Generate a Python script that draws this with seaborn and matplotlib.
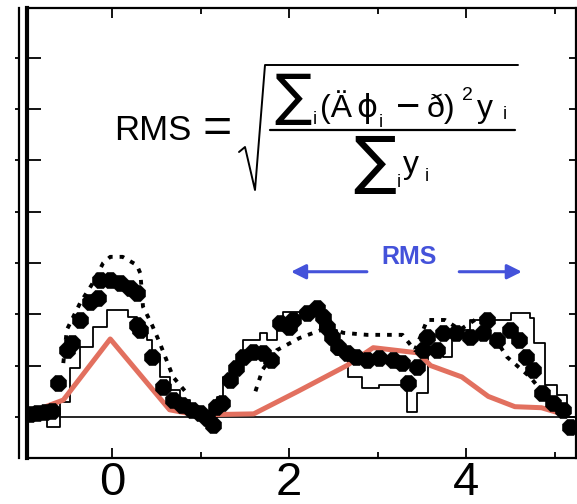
import matplotlib
matplotlib.use("Agg")
import numpy as np
import pandas as pd
import seaborn as sns
import matplotlib.pyplot as plt
from matplotlib.transforms import Affine2D
from matplotlib.ticker import MultipleLocator

sns.set_theme(style="white")
plt.rcParams["font.family"] = ["Liberation Sans", "DejaVu Sans"]
plt.rcParams["text.color"] = "black"
plt.rcParams["xtick.color"] = "black"
plt.rcParams["ytick.color"] = "black"

# ---------------- data ----------------
# model curve (red)
model_x = [-0.75, -0.55, -0.02, 0.65, 0.95, 1.6, 2.1, 2.65, 2.95, 3.45, 3.6, 3.95, 4.25, 4.55, 4.85, 5.1]
model_y = [0.2, 0.33, 1.52, 0.14, 0.04, 0.06, 0.5, 1.0, 1.35, 1.25, 1.0, 0.78, 0.4, 0.2, 0.18, 0.05]

# histogram (black staircase): left bin edges and levels
hist_edges = [-0.96, -0.73, -0.59, -0.47, -0.36, -0.21, -0.06, 0.18, 0.28, 0.40, 0.45,
              0.54, 0.65, 0.77, 0.88, 0.99, 1.19, 1.25, 1.33, 1.48, 1.67, 1.75, 1.86,
              1.93, 2.12, 2.35, 2.54, 2.66, 2.82, 3.02, 3.33, 3.45, 3.57, 3.74, 3.84,
              4.04, 4.51, 4.72, 4.77, 4.89, 5.02, 5.14, 5.24]
hist_levels = [0.14, -0.2, 0.29, 0.95, 1.36, 1.75, 2.09, 1.95, 1.75, 1.5, 1.17,
               0.78, 0.53, 0.33, 0.14, 0.0, 0.39, 0.78, 0.97, 1.5, 1.64, 1.5, 1.7,
               2.05, 2.0, 1.7, 1.21, 0.78, 0.57, 0.62, 0.1, 0.47, 1.35, 1.17, 1.7,
               1.89, 2.03, 1.93, 1.44, 0.62, 0.43, 0.0, 0.0]

# measured points (big black dots)
pts_x = [-0.93, -0.85, -0.76, -0.68, -0.61, -0.51, -0.45, -0.36, -0.25, -0.16, -0.14,
         -0.02, 0.09, 0.2, 0.28, 0.28, 0.32, 0.45, 0.58, 0.69, 0.79, 0.9, 0.99, 1.07,
         1.14, 1.18, 1.24, 1.33, 1.4, 1.48, 1.59, 1.7, 1.8, 1.9, 2.0, 2.04, 2.2, 2.31,
         2.38, 2.43, 2.49, 2.55, 2.65, 2.76, 2.88, 3.02, 3.17, 3.28, 3.34, 3.44, 3.51,
         3.56, 3.67, 3.74, 3.89, 4.04, 4.19, 4.23, 4.35, 4.49, 4.6, 4.68, 4.75, 4.86,
         4.98, 5.09, 5.17]
pts_y = [0.05, 0.08, 0.1, 0.12, 0.66, 1.3, 1.44, 1.89, 2.24, 2.32, 2.67,
         2.67, 2.61, 2.51, 2.42, 1.8, 1.7, 1.17, 0.58, 0.33, 0.23, 0.14, 0.08, -0.02,
         -0.16, 0.2, 0.27, 0.72, 0.95, 1.17, 1.27, 1.25, 1.11, 1.83, 1.75, 1.89, 2.03, 2.12,
         1.95, 1.75, 1.56, 1.36, 1.25, 1.17, 1.11, 1.15, 1.11, 1.05, 0.66, 0.97, 1.3,
         1.56, 1.31, 1.64, 1.64, 1.56, 1.64, 1.89, 1.5, 1.7, 1.5, 1.17, 0.92, 0.47,
         0.27, 0.14, -0.2]

# second measurement (dotted black), two separate stretches
alt_seg = [0] * 14 + [1] * 19
alt_x = [-0.55, -0.51, -0.36, -0.22, -0.1, -0.02, 0.12, 0.28, 0.32, 0.35, 0.45, 0.54, 0.69, 0.85,
         1.62, 1.70, 1.86, 2.12, 2.45, 2.61, 2.88, 3.14, 3.28, 3.42, 3.56, 3.76, 3.93, 4.15,
         4.30, 4.46, 4.72, 4.89, 5.0]
alt_y = [1.05, 1.7, 2.22, 2.6, 3.0, 3.12, 3.12, 2.96, 2.8, 2.15, 1.8, 1.44, 0.78, 0.45,
         0.5, 0.92, 1.3, 1.54, 1.75, 1.64, 1.6, 1.6, 1.6, 1.3, 1.89, 1.89, 1.7, 1.95,
         1.6, 1.17, 0.78, 0.43, 0.3]

x_ticks_major = [0, 2, 4]
x_tick_labels = ["0", "2", "4"]

XLIM = (-0.96, 5.24)
YLIM = (-0.8, 7.96)

# ---------------- figure ----------------
W, H = 577, 504
fig = plt.figure(figsize=(W / 100, H / 100), dpi=100)
ax = fig.add_axes([27 / W, 1 - 458 / H, 549 / W, 449.5 / H])
side = fig.add_axes([0, 1 - 458 / H, 19 / W, 449.5 / H])

red = "#E2705F"
blue = "#4452DA"

hist_df = pd.DataFrame({"x": hist_edges, "y": hist_levels})
sns.lineplot(data=hist_df, x="x", y="y", drawstyle="steps-post", estimator=None,
             sort=False, color="black", lw=1.3, ax=ax, zorder=2)

model_df = pd.DataFrame({"x": model_x, "y": model_y})
sns.lineplot(data=model_df, x="x", y="y", estimator=None, sort=False,
             color=red, lw=3.6, ax=ax, zorder=3)

alt_df = pd.DataFrame({"x": alt_x, "y": alt_y, "seg": alt_seg})
sns.lineplot(data=alt_df, x="x", y="y", units="seg", estimator=None, sort=False,
             color="black", lw=2.8, linestyle=(0, (1.2, 1.8)), ax=ax, zorder=4)

pts_df = pd.DataFrame({"x": pts_x, "y": pts_y})
sns.scatterplot(data=pts_df, x="x", y="y", marker="8", s=150, color="black",
                edgecolor="black", linewidth=0.5, ax=ax, zorder=5)

# zero reference line
ax.axhline(0, xmin=(-0.59 - XLIM[0]) / (XLIM[1] - XLIM[0]), xmax=1,
           color="black", lw=1.2, zorder=1)

ax.set_xlim(*XLIM)
ax.set_ylim(*YLIM)
ax.set_xlabel("")
ax.set_ylabel("")
ax.set_xticks(x_ticks_major)
ax.set_xticklabels(x_tick_labels)
ax.xaxis.set_minor_locator(MultipleLocator(1))
ax.yaxis.set_major_locator(MultipleLocator(1))
ax.tick_params(which="both", direction="in", top=True, right=True, bottom=True,
               left=True, color="black", width=1.3)
ax.tick_params(axis="x", which="major", length=7.5, labelsize=34, pad=2.5,
               labelcolor="black")
ax.tick_params(axis="x", which="minor", length=4)
ax.tick_params(axis="y", which="major", length=10, labelleft=False)
for t in ax.yaxis.get_major_ticks():
    t.tick2line.set_markersize(5)
for s in ax.spines.values():
    s.set_color("black")
    s.set_linewidth(1.6)
ax.spines["left"].set_linewidth(3.0)

# RMS range arrows
ax.annotate("", xy=(1.99, 2.83), xytext=(2.91, 2.83),
            arrowprops=dict(arrowstyle="-|>", color=blue, lw=2.2, mutation_scale=22))
ax.annotate("", xy=(4.66, 2.83), xytext=(3.89, 2.83),
            arrowprops=dict(arrowstyle="-|>", color=blue, lw=2.2, mutation_scale=22))
ax.text(3.36, 3.12, "RMS", color=blue, fontsize=18, fontweight="bold",
        ha="center", va="center")

# neighbouring panel edge
side.set_xlim(0, 1)
side.set_ylim(*YLIM)
side.set_xticks([])
side.yaxis.set_major_locator(MultipleLocator(1))
side.tick_params(axis="y", direction="in", left=False, right=True, labelleft=False,
                 length=3, width=1.3, color="black")
for k in ["left", "top", "bottom"]:
    side.spines[k].set_visible(False)
side.spines["right"].set_color("black")
side.spines["right"].set_linewidth(1.6)
side.set_facecolor("none")

# ---------------- formula ----------------
px = Affine2D().scale(1 / W, -1 / H).translate(0, 1) + fig.transFigure
fs = 23
fsub = 13
sig = ["DejaVu Sans"]
fig.text(114, 140, "RMS", transform=px, fontsize=25, va="baseline", ha="left")
fig.text(217, 129, "=", transform=px, fontsize=36, va="center", ha="center")

# radical sign
fig.add_artist(plt.Line2D([239, 245, 255, 265, 518], [152, 147, 190, 65, 65],
                          transform=px, color="black", lw=1.4))
# fraction bar
fig.add_artist(plt.Line2D([270, 515], [130, 130], transform=px, color="black", lw=1.6))

# numerator
fig.text(293, 99, "\u2211", transform=px, fontsize=40, va="center", ha="center",
         family=sig)
fig.text(313, 124, "i", transform=px, fontsize=fsub, va="baseline", ha="left")
fig.text(320, 117, "(\u00c4", transform=px, fontsize=fs, va="baseline", ha="left")
fig.text(367, 117, "\u03d5", transform=px, fontsize=fs, va="baseline", ha="center",
         family=sig)
fig.text(379, 127, "i", transform=px, fontsize=fsub, va="baseline", ha="left")
fig.text(408, 108, "\u2212", transform=px, fontsize=30, va="center", ha="center")
fig.text(427, 117, "\u00f0)", transform=px, fontsize=fs, va="baseline", ha="left")
fig.text(462, 100, "2", transform=px, fontsize=fsub + 1, va="baseline", ha="left")
fig.text(477, 117, "y", transform=px, fontsize=fs, va="baseline", ha="left")
fig.text(503, 119, "i", transform=px, fontsize=fsub, va="baseline", ha="left")

# denominator
fig.text(375, 164, "\u2211", transform=px, fontsize=46, va="center", ha="center",
         family=sig)
fig.text(397, 187, "i", transform=px, fontsize=fsub, va="baseline", ha="left")
fig.text(403, 173, "y", transform=px, fontsize=fs, va="baseline", ha="left")
fig.text(425, 181, "i", transform=px, fontsize=fsub, va="baseline", ha="left")

fig.savefig("out.png", dpi=100, facecolor="white")
